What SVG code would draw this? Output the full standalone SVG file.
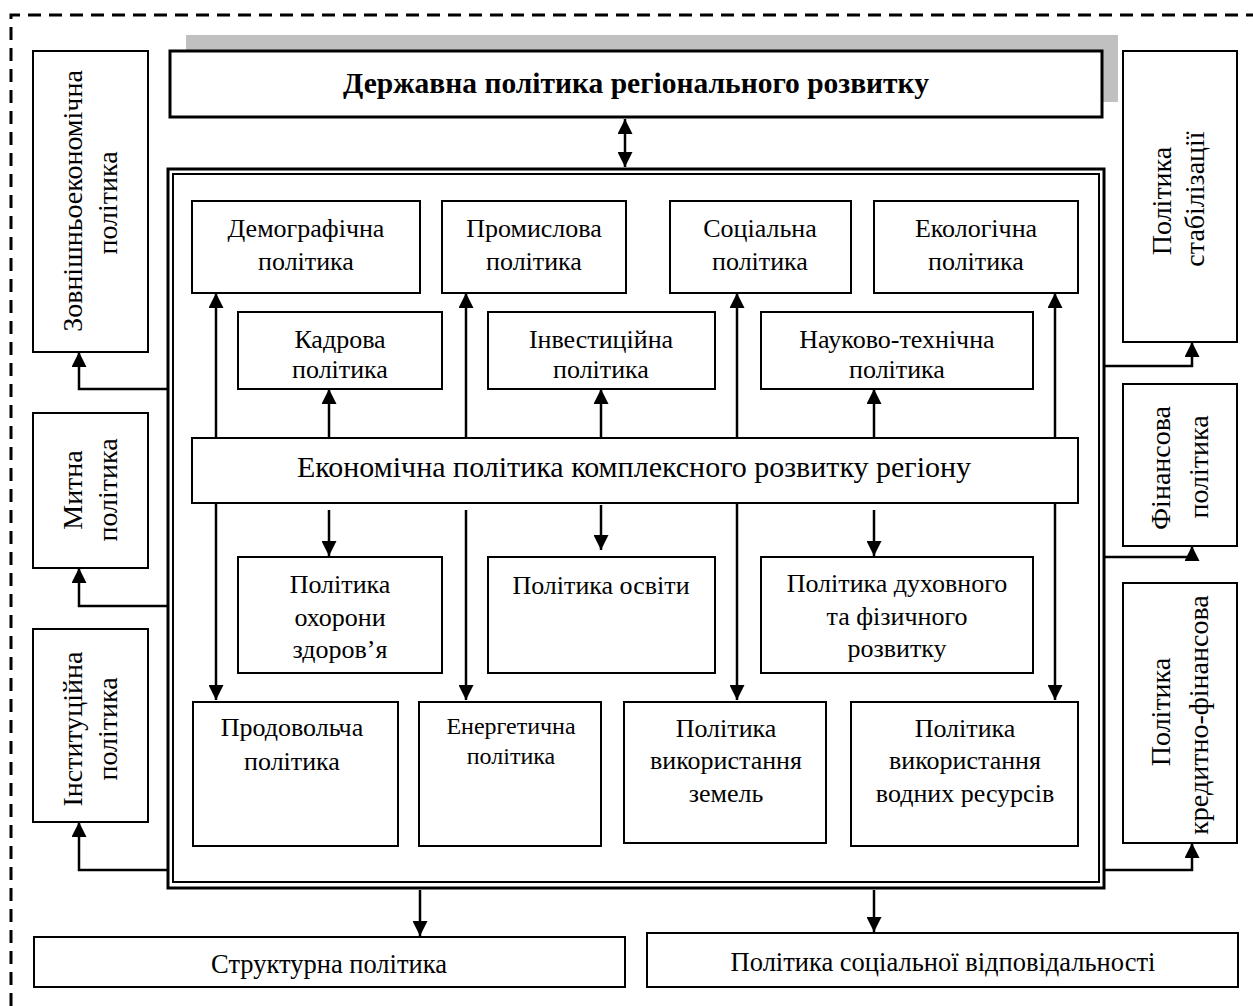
<svg xmlns="http://www.w3.org/2000/svg" width="1253" height="1006" viewBox="0 0 1253 1006">
<defs>
<marker id="ah" markerUnits="userSpaceOnUse" markerWidth="15" markerHeight="15" refX="15" refY="7.5" orient="auto-start-reverse">
<path d="M0,0 L15,7.5 L0,15 z" fill="#000"/>
</marker>
</defs>
<style>
.box{fill:#fff;stroke:#000;stroke-width:2}
.t{font-family:"Liberation Serif","Times New Roman",serif;font-size:26px;fill:#000;text-anchor:middle}
.v{font-family:"Liberation Serif","Times New Roman",serif;font-size:28px;fill:#000;text-anchor:middle}
.c{fill:none;stroke:#000;stroke-width:2.5}
.a{fill:none;stroke:#000;stroke-width:2.5;marker-end:url(#ah)}
</style>
<rect width="1253" height="1006" fill="#fff"/>
<path d="M11,1006 V15 H1253" fill="none" stroke="#000" stroke-width="3" stroke-dasharray="13 8"/>

<g id="title">
<rect x="186" y="35" width="932" height="67" fill="#c0c0c0"/>
<rect x="170" y="51" width="932" height="66" fill="#fff" stroke="#000" stroke-width="3"/>
<text x="636" y="93" class="t" style="font-weight:bold;font-size:29.5px">Державна політика регіонального розвитку</text>
</g>

<g id="frame">
<rect x="168" y="169" width="936" height="719" fill="none" stroke="#000" stroke-width="3"/>
<rect x="173" y="174" width="926" height="708" fill="none" stroke="#000" stroke-width="2"/>
</g>

<g id="zovnishnio">
<rect class="box" x="33" y="51" width="115" height="301"/>
<text class="v" transform="translate(82,201) rotate(-90)">Зовнішньоекономічна</text>
<text class="v" transform="translate(117,203) rotate(-90)">політика</text>
</g>
<g id="mytna">
<rect class="box" x="33" y="413" width="115" height="155"/>
<text class="v" transform="translate(82,490) rotate(-90)">Митна</text>
<text class="v" transform="translate(117,490) rotate(-90)">політика</text>
</g>
<g id="instytutsiina">
<rect class="box" x="33" y="629" width="115" height="193"/>
<text class="v" transform="translate(82,729) rotate(-90)">Інституційна</text>
<text class="v" transform="translate(117,729) rotate(-90)">політика</text>
</g>

<g id="stabilizatsii">
<rect class="box" x="1123" y="51" width="114" height="291"/>
<text class="v" transform="translate(1171,201) rotate(-90)">Політика</text>
<text class="v" transform="translate(1204,199) rotate(-90)">стабілізації</text>
</g>
<g id="finansova">
<rect class="box" x="1123" y="384" width="114" height="162"/>
<text class="v" transform="translate(1170,468) rotate(-90)">Фінансова</text>
<text class="v" transform="translate(1208,467) rotate(-90)">політика</text>
</g>
<g id="kredytno">
<rect class="box" x="1123" y="583" width="114" height="260"/>
<text class="v" transform="translate(1170,712) rotate(-90)">Політика</text>
<text class="v" transform="translate(1208,715) rotate(-90)">кредитно-фінансова</text>
</g>

<g id="demohrafichna">
<rect class="box" x="192" y="201" width="228" height="92"/>
<text class="t" x="306" y="237">Демографічна</text>
<text class="t" x="306" y="270">політика</text>
</g>
<g id="promyslova">
<rect class="box" x="442" y="201" width="184" height="92"/>
<text class="t" x="534" y="237">Промислова</text>
<text class="t" x="534" y="270">політика</text>
</g>
<g id="sotsialna">
<rect class="box" x="670" y="201" width="181" height="92"/>
<text class="t" x="760" y="237">Соціальна</text>
<text class="t" x="760" y="270">політика</text>
</g>
<g id="ekolohichna">
<rect class="box" x="874" y="201" width="204" height="92"/>
<text class="t" x="976" y="237">Екологічна</text>
<text class="t" x="976" y="270">політика</text>
</g>

<g id="kadrova">
<rect class="box" x="238" y="312" width="204" height="77"/>
<text class="t" x="340" y="348">Кадрова</text>
<text class="t" x="340" y="378">політика</text>
</g>
<g id="investytsiina">
<rect class="box" x="488" y="312" width="227" height="77"/>
<text class="t" x="601" y="348">Інвестиційна</text>
<text class="t" x="601" y="378">політика</text>
</g>
<g id="naukovo">
<rect class="box" x="761" y="312" width="272" height="77"/>
<text class="t" x="897" y="348">Науково-технічна</text>
<text class="t" x="897" y="378">політика</text>
</g>

<g id="ekonomichna">
<rect class="box" x="192" y="438" width="886" height="65"/>
<text class="t" x="634" y="477" style="font-size:30px">Економічна політика комплексного розвитку регіону</text>
</g>

<g id="okhorony">
<rect class="box" x="238" y="557" width="204" height="116"/>
<text class="t" x="340" y="593">Політика</text>
<text class="t" x="340" y="626">охорони</text>
<text class="t" x="340" y="658">здоров’я</text>
</g>
<g id="osvity">
<rect class="box" x="488" y="557" width="227" height="116"/>
<text class="t" x="601" y="594">Політика освіти</text>
</g>
<g id="dukhovnoho">
<rect class="box" x="761" y="557" width="272" height="116"/>
<text class="t" x="897" y="592">Політика духовного</text>
<text class="t" x="897" y="625">та фізичного</text>
<text class="t" x="897" y="657">розвитку</text>
</g>

<g id="prodovolcha">
<rect class="box" x="193" y="702" width="205" height="144"/>
<text class="t" x="292" y="736">Продовольча</text>
<text class="t" x="292" y="770">політика</text>
</g>
<g id="enerhetychna">
<rect class="box" x="419" y="702" width="182" height="144"/>
<text class="t" x="511" y="734" style="font-size:24px">Енергетична</text>
<text class="t" x="511" y="764" style="font-size:24px">політика</text>
</g>
<g id="zemel">
<rect class="box" x="624" y="702" width="202" height="141"/>
<text class="t" x="726" y="737">Політика</text>
<text class="t" x="726" y="769">використання</text>
<text class="t" x="726" y="802">земель</text>
</g>
<g id="vodnykh">
<rect class="box" x="851" y="702" width="227" height="144"/>
<text class="t" x="965" y="737">Політика</text>
<text class="t" x="965" y="769">використання</text>
<text class="t" x="965" y="802">водних ресурсів</text>
</g>

<g id="strukturna">
<rect class="box" x="34" y="937" width="591" height="50"/>
<text class="t" x="329" y="973" style="font-size:26.5px">Структурна політика</text>
</g>
<g id="sotsialnoi">
<rect class="box" x="647" y="933" width="591" height="54"/>
<text class="t" x="943" y="971" style="font-size:26.5px">Політика соціальної відповідальності</text>
</g>

<g id="connectors">
<path d="M625,119 V167" class="a" style="marker-start:url(#ah)"/>
<path d="M168,389 H79 V352" class="a"/>
<path d="M168,606 H79 V568" class="a"/>
<path d="M168,870 H79 V822" class="a"/>
<path d="M1104,366 H1192 V342" class="a"/>
<path d="M1104,557 H1192 V546" class="a"/>
<path d="M1104,870 H1192 V843" class="a"/>
<path d="M216,438 V293" class="a"/>
<path d="M466,438 V293" class="a"/>
<path d="M737,438 V293" class="a"/>
<path d="M1055,438 V293" class="a"/>
<path d="M329,438 V389" class="a"/>
<path d="M601,438 V389" class="a"/>
<path d="M874,438 V389" class="a"/>
<path d="M216,503 V700" class="a"/>
<path d="M466,510 V700" class="a"/>
<path d="M737,503 V700" class="a"/>
<path d="M1055,503 V700" class="a"/>
<path d="M329,510 V556" class="a"/>
<path d="M601,505 V550" class="a"/>
<path d="M874,510 V556" class="a"/>
<path d="M420,890 V936" class="a"/>
<path d="M874,890 V932" class="a"/>
</g>
</svg>
